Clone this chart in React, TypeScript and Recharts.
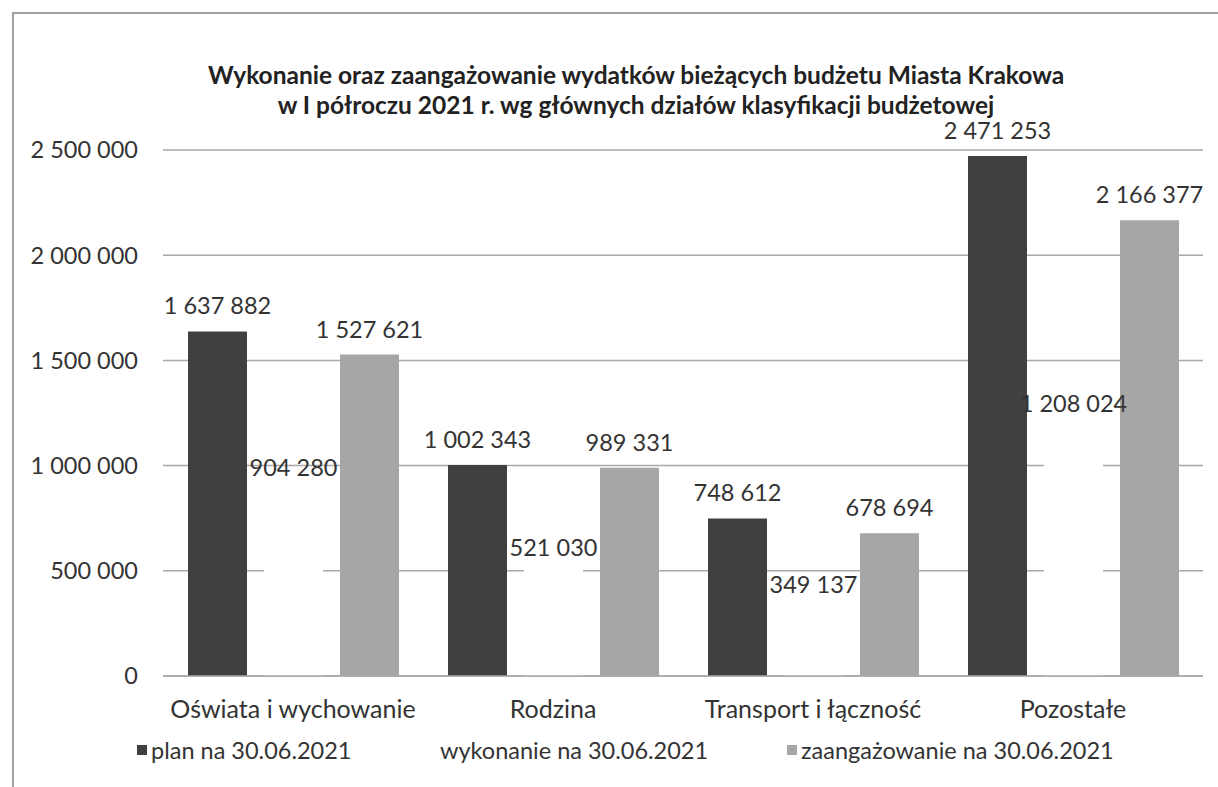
import React from 'react';
import { BarChart, Bar, XAxis, YAxis, CartesianGrid, LabelList, Legend } from 'recharts';

const categories = ['Oświata i wychowanie', 'Rodzina', 'Transport i łączność', 'Pozostałe'];
const planValues = [1637882, 1002343, 748612, 2471253];
const wykonanieValues = [904280, 521030, 349137, 1208024];
const zaangazowanieValues = [1527621, 989331, 678694, 2166377];
const yTicks = [0, 500000, 1000000, 1500000, 2000000, 2500000];

const seriesNames = {
  plan: 'plan na 30.06.2021',
  wykonanie: 'wykonanie na 30.06.2021',
  zaang: 'zaangażowanie na 30.06.2021',
};

const data = categories.map((name, i) => ({
  name,
  plan: planValues[i],
  wykonanie: wykonanieValues[i],
  zaang: zaangazowanieValues[i],
}));

const FONT = 'Lato, "Open Sans", sans-serif';
const TEXT = '#333';
const DARK = '#404040';
const LIGHT = '#a6a6a6';
const FS = 23.5;

const fmt = (v: any) => String(v).replace(/\B(?=(\d{3})+(?!\d))/g, ' ');

// value label drawn centred above the bar, no wrapping
const valueLabel = (gap: number) => (props: any) => {
  const { x, y, width, value } = props;
  return (
    <text x={x + width / 2} y={y - gap} textAnchor="middle" fontFamily={FONT} fontSize={FS} fill={TEXT}>
      {fmt(value)}
    </text>
  );
};

// legend: fixed-width items so the entries line up with the original
const legendItems = [
  { label: seriesNames.plan, color: DARK, width: 289 },
  { label: seriesNames.wykonanie, color: '#fff', width: 361 },
  { label: seriesNames.zaang, color: LIGHT, width: 400 },
];

const renderLegend = () => (
  <div style={{ display: 'flex', paddingLeft: 137, fontFamily: FONT, fontSize: FS, color: TEXT, whiteSpace: 'nowrap' }}>
    {legendItems.map((it) => (
      <div key={it.label} style={{ width: it.width, display: 'flex', alignItems: 'center' }}>
        <span style={{ display: 'inline-block', width: 10, height: 10, background: it.color, marginRight: 4 }} />
        <span>{it.label}</span>
      </div>
    ))}
  </div>
);

export default function App() {
  return (
    <div style={{ position: 'absolute', left: 0, top: 0, width: 1218, height: 787, background: '#fff', overflow: 'hidden' }}>
      {/* frame */}
      <div style={{ position: 'absolute', left: 12, top: 12, width: 1206, height: 775, borderTop: '2px solid #a0a0a0', borderLeft: '2px solid #a0a0a0' }} />

      <div style={{
        position: 'absolute', left: 0, top: 60, width: 1272, textAlign: 'center',
        fontFamily: FONT, fontWeight: 700, fontSize: 24.5, lineHeight: '30px', color: '#222',
      }}>
        Wykonanie oraz zaangażowanie wydatków bieżących budżetu Miasta Krakowa<br />
        w I półroczu 2021 r. wg głównych działów klasyfikacji budżetowej
      </div>

      <BarChart
        width={1218}
        height={787}
        data={data}
        margin={{ top: 150, right: 15, bottom: 51, left: 0 }}
        barSize={59}
        barGap={17}
        style={{ position: 'absolute', left: 0, top: 0 }}
      >
        <CartesianGrid vertical={false} stroke="#a8a8a8" strokeWidth={1.5} />
        <XAxis
          dataKey="name"
          height={60}
          axisLine={{ stroke: '#a8a8a8', strokeWidth: 1.5 }}
          tickLine={false}
          tickSize={0}
          tickMargin={24}
          tick={{ fontFamily: FONT, fontSize: 25, fill: TEXT }}
        />
        <YAxis
          width={163}
          domain={[0, 2500000]}
          ticks={yTicks}
          axisLine={false}
          tickLine={false}
          tickSize={0}
          tickMargin={25}
          tickFormatter={fmt}
          tick={{ fontFamily: FONT, fontSize: FS, fill: TEXT }}
        />
        <Legend verticalAlign="middle" align="center" layout="horizontal" content={renderLegend}
          wrapperStyle={{ left: 0, top: 736, width: 1218 }} />
        <Bar dataKey="plan" name={seriesNames.plan} fill={DARK} isAnimationActive={false}>
          <LabelList dataKey="plan" content={valueLabel(17)} />
        </Bar>
        <Bar dataKey="wykonanie" name={seriesNames.wykonanie} fill="#fff" isAnimationActive={false}>
          <LabelList dataKey="wykonanie" content={valueLabel(10)} />
        </Bar>
        <Bar dataKey="zaang" name={seriesNames.zaang} fill={LIGHT} isAnimationActive={false}>
          <LabelList dataKey="zaang" content={valueLabel(17)} />
        </Bar>
      </BarChart>
    </div>
  );
}
